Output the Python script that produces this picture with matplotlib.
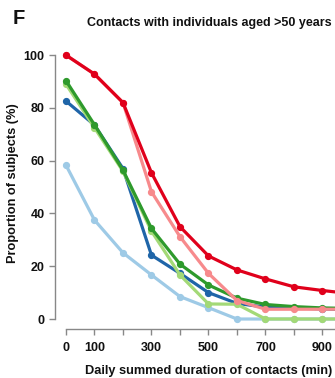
import matplotlib
matplotlib.use('Agg')
import matplotlib.pyplot as plt

# daily summed duration of contacts (min)
minutes = [0, 100, 200, 300, 400, 500, 600, 700, 800, 900, 1000]

# proportion of subjects (%) for each group
light_blue = [58.3, 37.5, 25.1, 16.7, 8.5, 4.3, 0.0, 0.0, 0.0, 0.0, 0.0]
blue = [82.6, 73.5, 57.0, 24.2, 17.3, 10.0, 5.9, 4.5, 4.2, 3.8, 3.5]
light_green = [89.0, 72.5, 56.0, 33.3, 16.7, 5.7, 5.6, 0.0, 0.0, 0.0, 0.0]
green = [90.3, 73.6, 56.4, 34.3, 20.8, 12.9, 7.9, 5.5, 4.7, 4.2, 4.0]
pink = [100.0, 92.8, 82.0, 48.2, 31.2, 17.3, 7.0, 3.7, 3.7, 3.7, 3.7]
red = [100.0, 92.8, 82.0, 55.4, 35.0, 23.9, 18.6, 15.2, 12.2, 10.8, 9.6]

series = [light_blue, blue, light_green, green, pink, red]
colors = ['#9ecae6', '#1f65a8', '#a3d977', '#2e9a2c', '#f78a8c', '#e0001b']

W, H = 335, 378
fig = plt.figure(figsize=(W / 100, H / 100), dpi=100)
plt.rcParams['font.family'] = ['Liberation Sans', 'DejaVu Sans']

# axes box in pixels
L, R, T, B = 58, 335, 48, 326
ax = fig.add_axes([L / W, 1 - B / H, (R - L) / W, (B - T) / H])

for vals, c in zip(series, colors):
    ax.plot(minutes, vals, color=c, lw=2.3, marker='o', ms=4.2,
            solid_capstyle='round', clip_on=True)

ax.set_xlim(-28, 944)
ax.set_ylim(-2.65, 102.7)

for s in ['top', 'right']:
    ax.spines[s].set_visible(False)
ax.spines['left'].set_position(('outward', 2.2))
ax.spines['bottom'].set_position(('outward', 2.2))
ax.spines['left'].set_bounds(0, 100)
ax.spines['bottom'].set_bounds(0, 944)
for s in ['left', 'bottom']:
    ax.spines[s].set_color('#888888')
    ax.spines[s].set_linewidth(1.0)

ax.set_yticks([0, 20, 40, 60, 80, 100])
ax.set_xticks(range(0, 1000, 100))
ax.set_xticklabels(['0', '100', '', '300', '', '500', '', '700', '', '900'])
ax.tick_params(axis='both', colors='#888888', labelcolor='#111111',
               length=4, width=1.0, labelsize=9)
ax.tick_params(axis='y', pad=3.5)
ax.tick_params(axis='x', pad=5)
for lab in ax.get_xticklabels() + ax.get_yticklabels():
    lab.set_fontweight('bold')

fig.text(13 / W, 1 - 183 / H, 'Proportion of subjects (%)', rotation=90,
         ha='center', va='center', fontsize=9.2, fontweight='bold',
         color='#111111')
fig.text(209 / W, 1 - 371 / H, 'Daily summed duration of contacts (min)',
         ha='center', va='center', fontsize=9.2, fontweight='bold',
         color='#111111')
fig.text(209 / W, 1 - 23 / H, 'Contacts with individuals aged >50 years',
         ha='center', va='center', fontsize=9.0, fontweight='bold',
         color='#111111')
fig.text(19 / W, 1 - 19 / H, 'F', ha='center', va='center', fontsize=14.5,
         fontweight='bold', color='#111111')

fig.savefig('out.png', dpi=100)
